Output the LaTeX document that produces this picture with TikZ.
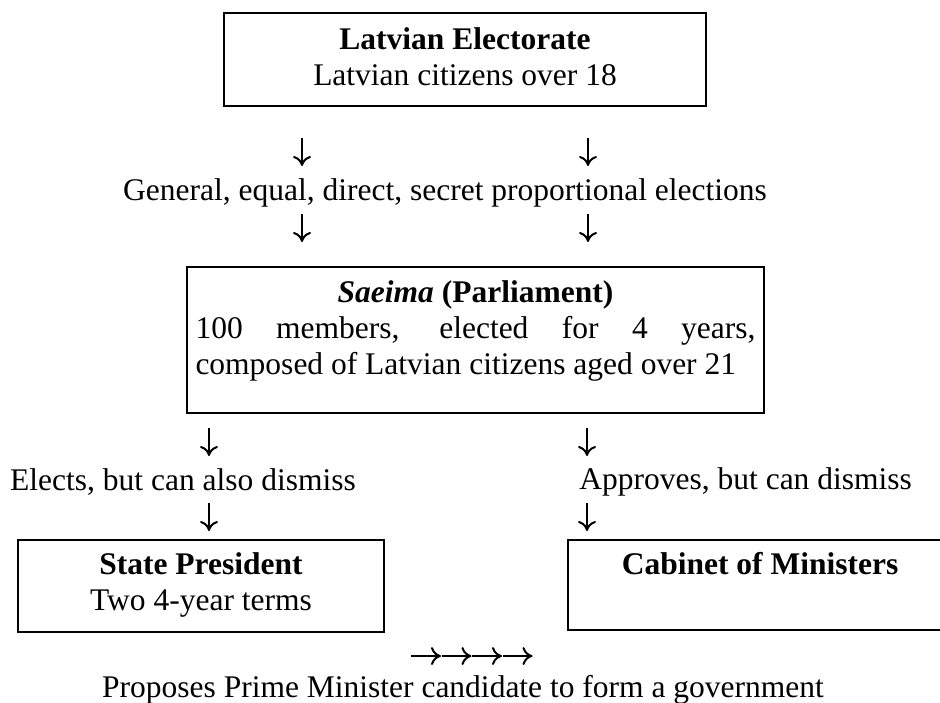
\documentclass[tikz,border=0pt]{standalone}
\usepackage{fontspec}
\setmainfont{Liberation Serif}
\usetikzlibrary{arrows.meta}
\tikzset{
  frame/.style={draw, line width=1pt, inner sep=4pt, align=center},
  txt/.style={inner sep=0pt},
  darr/.style={line width=1pt, -{To[length=5pt,width=9pt]}}
}
\begin{document}
\begin{tikzpicture}[x=0.5pt,y=-0.5pt,font=\fontsize{15.75}{18}\selectfont]
\useasboundingbox (0,0) rectangle (940,702);
% boxes
\node[frame, minimum width=241pt, minimum height=46.5pt, text depth=3pt] (elect) at (465,59.5)
  {\textbf{Latvian Electorate}\\Latvian citizens over 18};
\node[frame, minimum width=288.5pt, minimum height=73pt, text depth=12pt] (saeima) at (475.5,340)
  {\textbf{\textit{Saeima} (Parliament)}\\
   \makebox[280pt][s]{100 members, elected for 4 years,}\\
   \makebox[280pt][l]{composed of Latvian citizens aged over 21}};
\node[frame, minimum width=183pt, minimum height=46pt, text depth=4.5pt] (pres) at (201,586)
  {\textbf{State President}\\Two 4-year terms};
\node[frame, minimum width=192pt, minimum height=45pt, text depth=22pt] (cab) at (760,585)
  {\textbf{Cabinet of Ministers}};
% texts
\node[txt] (vote) at (445,193) {General, equal, direct, secret proportional elections};
\node[txt] (elects) at (183,482) {Elects, but can also dismiss};
\node[txt, anchor=west] (approves) at (579,482) {Approves, but can dismiss};
\node[txt] (proposes) at (463,690) {Proposes Prime Minister candidate to form a government};
% down arrows
\foreach \x/\y [count=\i] in {302/138,588/138,302/214,588/214,209/428,587/428,209/503,587/503}{
  \coordinate (s\i) at (\x,\y);
  \coordinate (e\i) at (\x,\y+28);
  \draw[darr] (s\i) -- (e\i);
}
% right arrows
\foreach \k in {0,...,3}{
  \coordinate (r\k) at (411+30.5*\k,656);
  \coordinate (q\k) at (411+30.5*\k+30,656);
  \draw[darr] (r\k) -- (q\k);
}
\end{tikzpicture}
\end{document}
